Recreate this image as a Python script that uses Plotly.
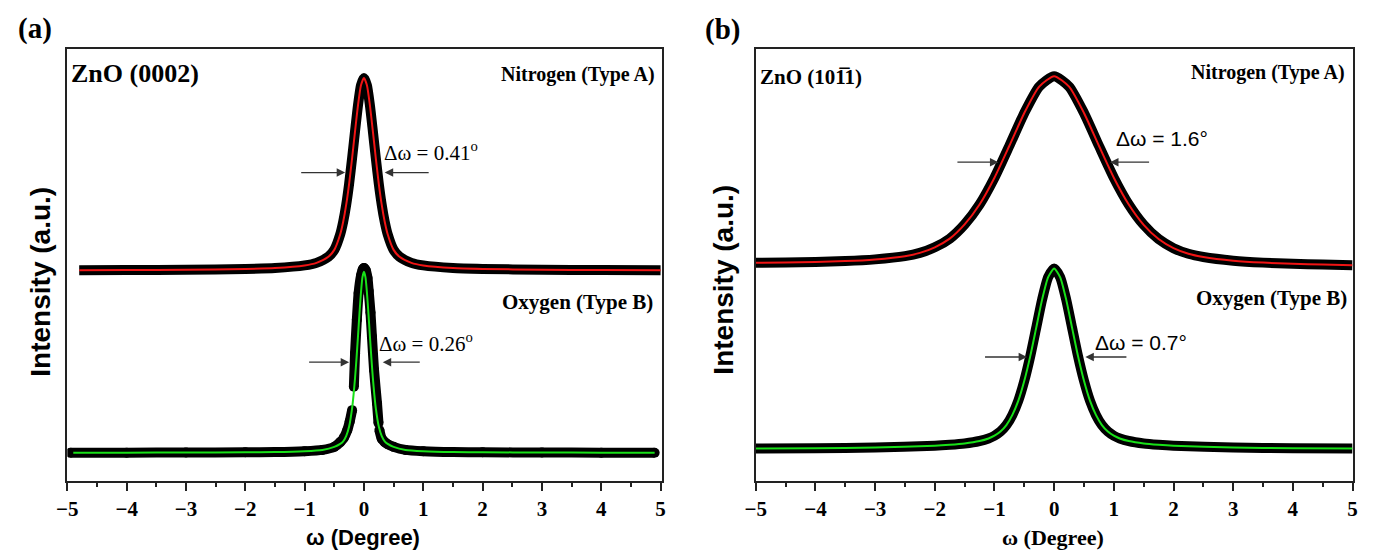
import plotly.graph_objects as go

# ---------------- data ----------------
# Panel (a): ZnO (0002) rocking curves
xa_N = [-4.8, -4, -3, -2, -1.5, -1, -0.8, -0.6, -0.5, -0.4, -0.35, -0.3, -0.25, -0.2, -0.15, -0.1, -0.05,
        0, 0.05, 0.1, 0.15, 0.2, 0.25, 0.3, 0.35, 0.4, 0.5, 0.6, 0.8, 1, 1.5, 2, 3, 4, 5]
ya_N = [0.488, 0.4885, 0.489, 0.491, 0.493, 0.499, 0.505, 0.519, 0.535, 0.571, 0.600, 0.639, 0.688, 0.747,
        0.810, 0.870, 0.916, 0.933, 0.916, 0.870, 0.810, 0.747, 0.688, 0.639, 0.600, 0.571, 0.535, 0.519,
        0.505, 0.499, 0.493, 0.491, 0.489, 0.4885, 0.488]

xa_O_fit = [-4.9, -4, -3, -2, -1.5, -1, -0.7, -0.5, -0.4, -0.35, -0.3, -0.25, -0.2, -0.175, -0.15, -0.125,
            -0.1, -0.075, -0.05, -0.025, 0, 0.025, 0.05, 0.075, 0.1, 0.125, 0.15, 0.175, 0.2, 0.25, 0.3,
            0.35, 0.4, 0.5, 0.7, 1, 1.5, 2, 3, 4, 4.9]
ya_O_fit = [0.0655, 0.0655, 0.066, 0.0665, 0.067, 0.069, 0.072, 0.079, 0.086, 0.092, 0.104, 0.126, 0.168,
            0.200, 0.239, 0.285, 0.336, 0.389, 0.437, 0.472, 0.4845, 0.472, 0.437, 0.389, 0.336, 0.285,
            0.239, 0.200, 0.168, 0.126, 0.104, 0.092, 0.086, 0.079, 0.072, 0.069, 0.067, 0.0665, 0.066,
            0.0655, 0.0655]

# measured points (gaps where the scan skips)
xa_O_dat = [-4.95, -4, -3, -2, -1.5, -1, -0.7, -0.5, -0.4, -0.34, -0.28, -0.24, -0.2, None,
            -0.17, -0.15, -0.12, -0.09, -0.05, -0.02, 0, 0.03, 0.06, 0.08, 0.11, 0.135, 0.17, 0.22, 0.245, None,
            0.26, 0.3, 0.35, 0.4, 0.5, 0.7, 1, 1.5, 2, 3, 4, 4.9]
ya_O_dat = [0.0655, 0.0655, 0.066, 0.0665, 0.067, 0.069, 0.072, 0.079, 0.09, 0.100, 0.118, 0.138, 0.164, None,
            0.218, 0.296, 0.373, 0.435, 0.475, 0.490, 0.493, 0.488, 0.470, 0.440, 0.390, 0.334, 0.257, 0.180,
            0.134, None,
            0.118, 0.098, 0.090, 0.085, 0.079, 0.072, 0.069, 0.067, 0.0665, 0.066, 0.0655, 0.0655]

# Panel (b): ZnO (10-11) rocking curves
xb_N = [-5, -4.5, -4, -3.5, -3, -2.5, -2.25, -2, -1.75, -1.5, -1.25, -1, -0.75, -0.5, -0.25, 0,
        0.25, 0.5, 0.75, 1, 1.25, 1.5, 1.75, 2, 2.25, 2.5, 3, 3.5, 4, 4.5, 5]
yb_N = [0.505, 0.5055, 0.507, 0.509, 0.513, 0.5205, 0.528, 0.541, 0.561, 0.594, 0.640, 0.702, 0.776,
        0.852, 0.913, 0.937, 0.913, 0.852, 0.776, 0.702, 0.640, 0.593, 0.560, 0.539, 0.526, 0.5185,
        0.510, 0.5055, 0.503, 0.501, 0.4995]

xb_O = [-5, -4, -3, -2, -1.75, -1.5, -1.25, -1.1, -1, -0.9, -0.8, -0.7, -0.6, -0.5, -0.4, -0.3, -0.2,
        -0.1, 0, 0.1, 0.2, 0.3, 0.4, 0.5, 0.6, 0.7, 0.8, 0.9, 1, 1.1, 1.25, 1.5, 1.75, 2, 3, 4, 5]
yb_O = [0.075, 0.076, 0.0775, 0.0815, 0.0838, 0.087, 0.0926, 0.0985, 0.1048, 0.1145, 0.1295, 0.153,
        0.186, 0.232, 0.289, 0.355, 0.421, 0.472, 0.492, 0.472, 0.421, 0.355, 0.289, 0.232, 0.186, 0.153,
        0.1295, 0.1145, 0.1048, 0.0985, 0.0926, 0.087, 0.0838, 0.0815, 0.0775, 0.076, 0.075]

x_ticks = [-5, -4, -3, -2, -1, 0, 1, 2, 3, 4, 5]

# ---------------- figure ----------------
W, H = 1378, 552
SERIF = "Liberation Serif, Times New Roman, serif"
SANS = "Liberation Sans, Arial, sans-serif"
RED = "#f01414"
GREEN = "#18e018"


def px(x):
    return x / W


def py(y):
    return 1 - y / H


fig = go.Figure()


def band(x, y, xa, ya, dots=False):
    fig.add_trace(go.Scatter(x=x, y=y, xaxis=xa, yaxis=ya, mode="lines+markers" if dots else "lines",
                             line=dict(color="black", width=10, shape="spline", smoothing=0.6),
                             marker=dict(color="black", size=10), connectgaps=False,
                             hoverinfo="skip"))


def fitline(x, y, xa, ya, color):
    fig.add_trace(go.Scatter(x=x, y=y, xaxis=xa, yaxis=ya, mode="lines",
                             line=dict(color=color, width=2, shape="spline", smoothing=0.6),
                             hoverinfo="skip"))


band(xa_N, ya_N, "x", "y")
fitline(xa_N, ya_N, "x", "y", RED)
band(xa_O_dat, ya_O_dat, "x", "y", dots=True)
fitline(xa_O_fit, ya_O_fit, "x", "y", GREEN)

band(xb_N, yb_N, "x2", "y2")
fitline(xb_N, yb_N, "x2", "y2", RED)
band(xb_O, yb_O, "x2", "y2")
fitline(xb_O, yb_O, "x2", "y2", GREEN)

axis_line = dict(showline=True, linecolor="#222", linewidth=1.5, mirror=True, showgrid=False,
                 zeroline=False)
xcommon = dict(axis_line, ticks="outside", ticklen=8, tickwidth=1.5, tickcolor="#222",
               tickmode="array", tickvals=x_ticks,
               tickfont=dict(family=SERIF, size=21, color="black", weight="bold"),
               minor=dict(ticks="outside", ticklen=4, tickwidth=1.5, tickcolor="#222",
                          tickmode="linear", tick0=-5, dtick=0.5, showgrid=False))
ycommon = dict(axis_line, showticklabels=False, ticks="", range=[0, 1],
               domain=[py(481), py(49)])

fig.update_layout(
    width=W, height=H, margin=dict(l=0, r=0, t=0, b=0),
    paper_bgcolor="white", plot_bgcolor="white", showlegend=False,
    xaxis=dict(xcommon, domain=[px(57), px(659)], range=[-5, 5.03], anchor="y"),
    yaxis=dict(ycommon, anchor="x"),
    xaxis2=dict(xcommon, domain=[px(753.5), px(1357.3)], range=[-5, 5], anchor="y2"),
    yaxis2=dict(ycommon, anchor="x2"),
)

ann = []


def text(s, x, y, size, family=SERIF, bold=True, xanchor="left", angle=0):
    ann.append(dict(text=s, x=px(x), y=py(y), xref="paper", yref="paper", showarrow=False,
                    xanchor=xanchor, yanchor="middle", textangle=angle, borderpad=0,
                    font=dict(family=family, size=size, color="black",
                              weight="bold" if bold else "normal")))


text("(a)", 24, 28, 29, xanchor="center")
text("(b)", 720, 29, 29, xanchor="center")

text("ZnO (0002)", 60, 73, 26)
text("Nitrogen (Type A)", 653, 74, 20, xanchor="right")
text("Oxygen (Type B)", 651, 302, 21, xanchor="right")
text("Δω = 0.41<sup>o</sup>", 376, 151, 21, bold=False)
text("Δω = 0.26<sup>o</sup>", 371, 342, 21, bold=False)

text("ZnO (10\u0031\u03051)", 757, 77, 21)
text("Nitrogen (Type A)", 1351, 72, 20, xanchor="right")
text("Oxygen (Type B)", 1353, 298, 21, xanchor="right")
text("Δω = 1.6°", 1117, 138, 21, family=SANS, bold=False)
text("Δω = 0.7°", 1096, 342, 21, family=SANS, bold=False)

text("ω (Degree)", 356, 537, 22, family=SANS, xanchor="center")
text("ω (Degree)", 1054, 537, 22, xanchor="center")
text("Intensity (a.u.)", 29, 282, 28, family=SANS, xanchor="center", angle=-90)
text("Intensity (a.u.)", 720, 280, 28, family=SANS, xanchor="center", angle=-90)


def arrow(xh, xt, y, xr, yr):
    ann.append(dict(x=xh, y=y, ax=xt, ay=y, xref=xr, yref=yr, axref=xr, ayref=yr, text="",
                    showarrow=True, arrowhead=2, arrowsize=1.3, arrowwidth=1.3, arrowcolor="#333"))


# panel (a) arrows
arrow(-0.317, -1.083, 0.714, "x", "y")
arrow(0.35, 1.116, 0.714, "x", "y")
arrow(-0.25, -0.95, 0.275, "x", "y")
arrow(0.317, 0.966, 0.275, "x", "y")
# panel (b) arrows
arrow(-0.934, -1.646, 0.738, "x2", "y2")
arrow(0.937, 1.616, 0.738, "x2", "y2")
arrow(-0.454, -1.183, 0.287, "x2", "y2")
arrow(0.523, 1.236, 0.287, "x2", "y2")

fig.update_layout(annotations=ann)
fig.write_html("out.html")
